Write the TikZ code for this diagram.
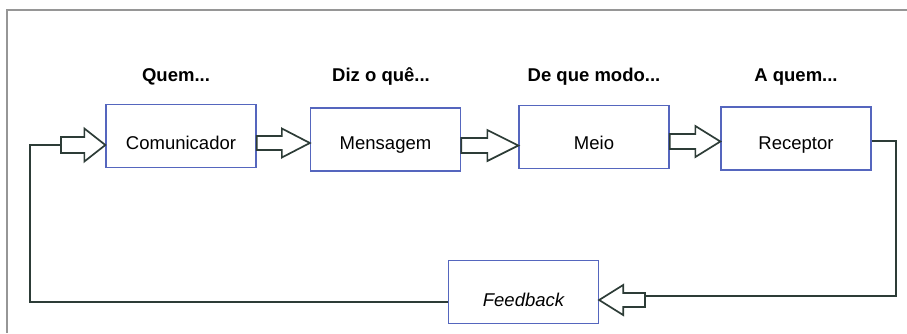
\documentclass[tikz,border=0pt]{standalone}
\usepackage{fontspec}
\setmainfont{Liberation Sans}
\usetikzlibrary{calc}

\definecolor{boxblue}{RGB}{85,102,190}
\definecolor{linegray}{RGB}{45,60,55}
\definecolor{framegray}{RGB}{150,150,150}

% hollow block arrow: tail, tip, head length, shaft half-width, head half-width
\newcommand\hollowarrow[5]{%
  \draw[blockarrow] let \p1=(#1), \p2=(#2), \n1={(\x2-\x1)/abs(\x2-\x1)} in
    (\x1,\y2+#4) -- (\x2-\n1*#3,\y2+#4) -- (\x2-\n1*#3,\y2+#5) -- (\x2,\y2)
    -- (\x2-\n1*#3,\y2-#5) -- (\x2-\n1*#3,\y2-#4) -- (\x1,\y2-#4) -- cycle;}

\begin{document}
\begin{tikzpicture}[x=1pt,y=-1pt,
  stage/.style={draw=boxblue, line width=1.3pt, fill=white,
    minimum width=150pt, minimum height=63pt, inner sep=0pt,
    text height=25pt, text depth=0pt,
    font=\fontsize{18.5}{22}\selectfont},
  heading/.style={font=\fontsize{18.5}{22}\selectfont\bfseries, inner sep=0pt},
  blockarrow/.style={draw=linegray, line width=1.7pt, fill=white, line join=miter},
  link/.style={draw=linegray, line width=1.8pt}]
\useasboundingbox (0,0) rectangle (907,333);

% open frame
\draw[framegray, line width=1.2pt] (907,10) -- (7,10) -- (7,333);

% stages (text height sets how far the label sits below the box centre)
\node[stage, text height=27pt] (com) at (181,136) {Comunicador};
\node[stage, text height=20pt] (msg) at (385.5,139.5) {Mensagem};
\node[stage, text height=25pt] (meio) at (594,137) {Meio};
\node[stage, text height=22pt] (rec) at (796,138.5) {Receptor};
\node[stage, text height=29pt] (fb) at (523.5,292) {\itshape Feedback};

% headings
\node[heading] (hcom) at (176,77) {Quem...};
\node[heading] (hmsg) at (381,77) {Diz o quê...};
\node[heading] (hmeio) at (594,77) {De que modo...};
\node[heading] (hrec) at (796,77) {A quem...};

% forward arrows
\coordinate (tipmsg) at (msg.west |- 0,143);
\coordinate (tipmeio) at (meio.west |- 0,145.5);
\coordinate (tiprec) at (rec.west |- 0,141.5);
\hollowarrow{com.east}{tipmsg}{28pt}{7pt}{14.5pt}
\hollowarrow{msg.east}{tipmeio}{31pt}{7.5pt}{15.5pt}
\hollowarrow{meio.east}{tiprec}{25pt}{7.5pt}{15.5pt}

% feedback loop
\coordinate (recout) at (rec.east |- 0,141);
\coordinate (rcorner) at (896,141);
\coordinate (fbtail) at (645,296);
\coordinate (fbtip) at (fb.east |- 0,300);
\draw[link] (recout) -- (rcorner) |- (fbtail);
\hollowarrow{fbtail}{fbtip}{24pt}{7pt}{15pt}

\coordinate (fbout) at (fb.west |- 0,302);
\coordinate (lcorner) at (30,145);
\coordinate (intail) at (61,145);
\coordinate (intip) at (com.west |- 0,145);
\draw[link] (fbout) -| (lcorner) -- (intail);
\hollowarrow{intail}{intip}{21pt}{8pt}{16.5pt}
\end{tikzpicture}
\end{document}
